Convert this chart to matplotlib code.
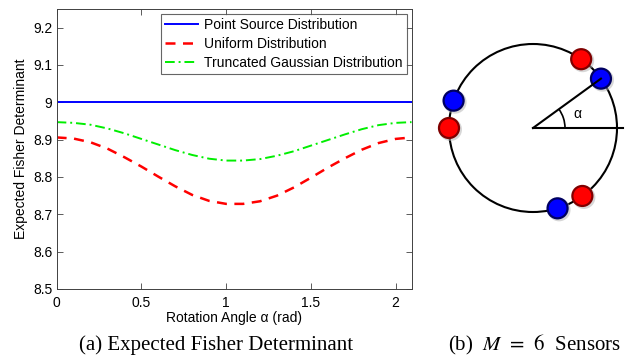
import numpy as np
import matplotlib
matplotlib.use("Agg")
from matplotlib import pyplot as plt
from matplotlib.patches import Circle, Arc

plt.rcParams['font.family'] = ['Liberation Sans', 'DejaVu Sans']
plt.rcParams['mathtext.fontset'] = 'stix'

# rotation angle samples (rad) and curves
alpha = [0.0, 0.1, 0.2, 0.3, 0.4, 0.5, 0.6, 0.7, 0.8, 0.9, 1.0,
         1.1, 1.2, 1.3, 1.4, 1.5, 1.6, 1.7, 1.8, 1.9, 2.0, 2.094]
point_source = [9.0] * len(alpha)
uniform = [8.906, 8.903, 8.893, 8.876, 8.853, 8.828, 8.801, 8.775, 8.752, 8.736, 8.728,
           8.728, 8.735, 8.750, 8.772, 8.798, 8.825, 8.850, 8.873, 8.891, 8.902, 8.906]
trunc_gauss = [8.947, 8.945, 8.940, 8.930, 8.917, 8.902, 8.887, 8.872, 8.859, 8.849, 8.844,
               8.844, 8.848, 8.857, 8.869, 8.884, 8.899, 8.914, 8.928, 8.939, 8.945, 8.947]

# sensor angles on the ring (degrees)
red_sensors = [55, 180, 306]
blue_sensors = [36, 161, 287]
rot_angle = 36

W, H = 629, 358
fig = plt.figure(figsize=(W / 100, H / 100), dpi=100)

# ---- panel (a)
ax = fig.add_axes([56.6 / W, 1 - 289 / H, 355 / W, 280 / H])
ax.plot(alpha, point_source, color='#0000ff', lw=1.4, label='Point Source Distribution')
ax.plot(alpha, uniform, color='#ff0000', lw=1.8, ls=(0, (4, 3)), label='Uniform Distribution')
ax.plot(alpha, trunc_gauss, color='#00ee00', lw=1.4, ls=(0, (5, 2, 1, 2)),
        label='Truncated Gaussian Distribution')
ax.set_xlim(0, 2 * np.pi / 3)
ax.set_ylim(8.5, 9.25)
ax.set_xticks([0, 0.5, 1, 1.5, 2])
ax.set_xticklabels(['0', '0.5', '1', '1.5', '2'])
ax.set_yticks([8.5, 8.6, 8.7, 8.8, 8.9, 9.0, 9.1, 9.2])
ax.set_yticklabels(['8.5', '8.6', '8.7', '8.8', '8.9', '9', '9.1', '9.2'])
ax.tick_params(direction='in', top=True, right=True, labelsize=10, length=4,
               width=0.6, color='#404040')
ax.tick_params(axis='x', pad=5)
ax.tick_params(axis='y', pad=3)
for s in ax.spines.values():
    s.set_linewidth(0.7)
    s.set_color('#404040')
ax.set_xlabel('Rotation Angle α (rad)', fontsize=10, labelpad=1)
ax.set_ylabel('Expected Fisher Determinant', fontsize=10, labelpad=4)
leg = ax.legend(loc='upper right', fontsize=10, frameon=True, fancybox=False,
                handlelength=2.4, handletextpad=0.4, borderpad=0.3, labelspacing=0.35,
                borderaxespad=0.0, bbox_to_anchor=(350 / 355, 1 - 5 / 280))
leg.get_frame().set_edgecolor('#404040')
leg.get_frame().set_linewidth(0.8)

# ---- panel (b): sensor ring diagram in pixel coordinates
ax2 = fig.add_axes([420 / W, 0, 209 / W, 1])
ax2.set_xlim(420, 629)
ax2.set_ylim(H, 0)
ax2.axis('off')
cx, cy, r = 533, 128, 84
ax2.add_patch(Circle((cx, cy), r, fill=False, ec='black', lw=1.5))
ax2.plot([cx, 623], [cy, cy], color='black', lw=1.5)
ra = np.deg2rad(rot_angle)
ax2.plot([cx, cx + r * np.cos(ra)], [cy, cy - r * np.sin(ra)], color='black', lw=1.5)
ax2.add_patch(Arc((cx, cy), 64, 64, theta1=-rot_angle, theta2=0, color='black', lw=1.2))
ax2.text(577, 114, 'α', fontsize=10, ha='center', va='center')


def sensor(ang, face, edge):
    a = np.deg2rad(ang)
    x, y = cx + r * np.cos(a), cy - r * np.sin(a)
    ax2.add_patch(Circle((x + 1.5, y + 1.5), 11.5, color='#b0b0b0', alpha=0.5, lw=0))
    ax2.add_patch(Circle((x, y), 10, fc=face, ec=edge, lw=1.6))


for a_ in red_sensors:
    sensor(a_, '#ff0000', '#800000')
for a_ in blue_sensors:
    sensor(a_, '#0000ff', '#000060')

# ---- captions
fig.text(216.5 / W, 1 - 345 / H, '(a) Expected Fisher Determinant', fontsize=15,
         family='Liberation Serif', ha='center', va='center')
fig.text(534.5 / W, 1 - 345 / H, '(b)  $M\\;\\,=\\;\\,6$  Sensors', fontsize=15,
         family='Liberation Serif', ha='center', va='center')

fig.savefig('out.png', dpi=100)
